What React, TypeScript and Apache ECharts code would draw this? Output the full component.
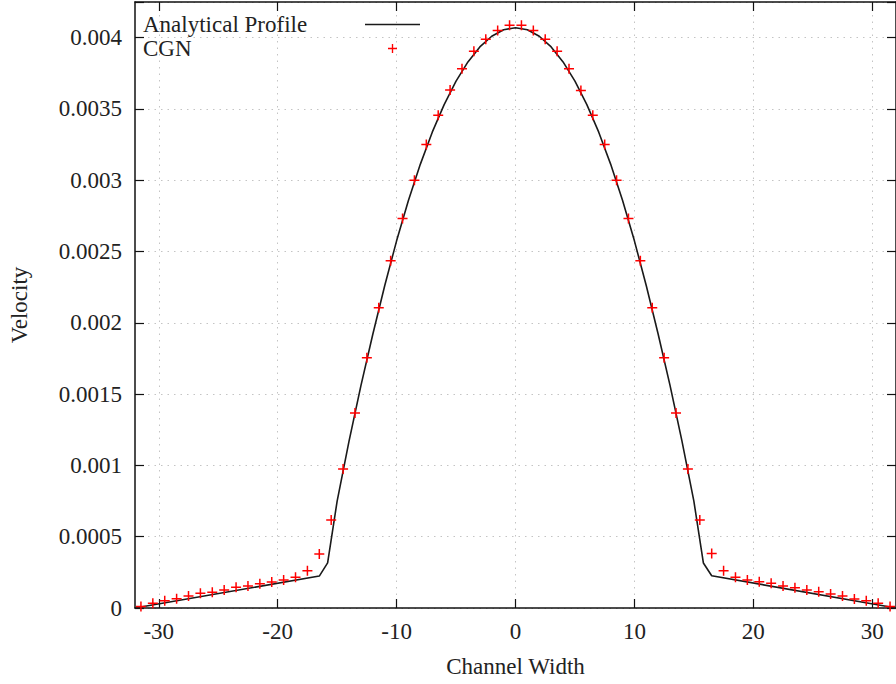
import React, { useEffect, useRef } from "react";
import * as echarts from "echarts";

const xTickValues = [-30, -20, -10, 0, 10, 20, 30];

// Analytical profile (line)
const analyticX = [
  -32, -16.5, -15.8, -15, -14, -13, -12, -11, -10, -9, -8, -7, -6, -5, -4, -3, -2, -1, 0,
  1, 2, 3, 4, 5, 6, 7, 8, 9, 10, 11, 12, 13, 14, 15, 15.8, 16.5, 32,
];
const analyticY = [
  0, 0.000224, 0.000316, 0.00075, 0.00117, 0.00156, 0.00192, 0.00226, 0.002575, 0.00286,
  0.003113, 0.003337, 0.00353, 0.003695, 0.00383, 0.003935, 0.00401, 0.004055, 0.00407,
  0.004055, 0.00401, 0.003935, 0.00383, 0.003695, 0.00353, 0.003337, 0.003113, 0.00286,
  0.002575, 0.00226, 0.00192, 0.00156, 0.00117, 0.00075, 0.000316, 0.000226, 0,
];

// CGN (points)
const cgnX = [
  -31.5, -30.5, -29.5, -28.5, -27.5, -26.5, -25.5, -24.5, -23.5, -22.5, -21.5, -20.5, -19.5,
  -18.5, -17.5, -16.5, -15.5, -14.5, -13.5, -12.5, -11.5, -10.5, -9.5, -8.5, -7.5, -6.5, -5.5,
  -4.5, -3.5, -2.5, -1.5, -0.5, 0.5, 1.5, 2.5, 3.5, 4.5, 5.5, 6.5, 7.5, 8.5, 9.5, 10.5, 11.5,
  12.5, 13.5, 14.5, 15.5, 16.5, 17.5, 18.5, 19.5, 20.5, 21.5, 22.5, 23.5, 24.5, 25.5, 26.5,
  27.5, 28.5, 29.5, 30.5, 31.5,
];
const cgnY = [
  0.00001, 0.000033, 0.000051, 0.000065, 0.000084, 0.000103, 0.00011, 0.000126, 0.000145,
  0.000154, 0.00017, 0.000182, 0.000196, 0.000215, 0.000261, 0.000379, 0.000617, 0.000974,
  0.001367, 0.001755, 0.002105, 0.002435, 0.002732, 0.003, 0.00325, 0.003456, 0.003632,
  0.003782, 0.003905, 0.003988, 0.00405, 0.004087, 0.004087, 0.00405, 0.003988, 0.003905,
  0.003782, 0.00363, 0.003455, 0.00325, 0.003, 0.002732, 0.002435, 0.002105, 0.001755,
  0.001367, 0.000974, 0.000617, 0.000383, 0.000261, 0.000215, 0.000196, 0.000184, 0.000173,
  0.000154, 0.000142, 0.000126, 0.000114, 0.000098, 0.000084, 0.000063, 0.000051, 0.000033,
  0.00001,
];

const FONT = "Liberation Serif";
const TEXT = "#222";
const PLUS =
  "path://M4.25,0h1.5v4.25h4.25v1.5h-4.25v4.25h-1.5v-4.25h-4.25v-1.5h4.25z";
const LINE_ICON = "path://M0,0h55v1.6h-55z";

export default function App() {
  const ref = useRef<HTMLDivElement>(null);
  useEffect(() => {
    document.body.style.margin = "0";
    if (!ref.current) return;
    const chart = echarts.init(ref.current, null, { renderer: "svg" });
    const gridDash = { color: "#c4c4c4", width: 1, type: [1.5, 5] as any };
    const axisLine = { show: true, onZero: false, lineStyle: { color: "#111", width: 1.5 } };
    const tick = { show: true, inside: true, length: 9, lineStyle: { color: "#111", width: 1.2 } };
    const yFmt = (v: number) => {
      const r = Math.round(v * 1e6);
      if (r % 500 !== 0) return "";
      return String(Number(v.toFixed(4)));
    };
    chart.setOption({
      animation: false,
      backgroundColor: "#fff",
      textStyle: { fontFamily: FONT },
      grid: { left: 132, right: -5, top: 2, bottom: 76, containLabel: false },
      legend: {
        orient: "vertical",
        left: 143,
        top: 13,
        padding: 0,
        itemWidth: 55,
        itemHeight: 9,
        itemGap: 1,
        align: "right",
        selectedMode: false,
        formatter: (name: string) => `{a|${name}}`,
        textStyle: {
          fontFamily: FONT,
          fontSize: 23,
          color: TEXT,
          rich: { a: { width: 217, align: "left", fontFamily: FONT, fontSize: 23, lineHeight: 20, color: TEXT } },
        },
        data: [{ name: "Analytical Profile", icon: LINE_ICON }, { name: "CGN" }],
      },
      xAxis: [
        {
          type: "value",
          min: -32,
          max: 32,
          position: "bottom",
          name: "Channel Width",
          nameLocation: "middle",
          nameGap: 47,
          nameTextStyle: { fontFamily: FONT, fontSize: 23, color: TEXT },
          axisLine,
          axisTick: { ...tick, customValues: xTickValues },
          axisLabel: { customValues: xTickValues, fontFamily: FONT, fontSize: 23, color: TEXT, margin: 12 },
          splitLine: { show: true, lineStyle: gridDash },
        },
        {
          type: "value",
          min: -32,
          max: 32,
          position: "top",
          axisLine,
          axisTick: { ...tick, customValues: xTickValues },
          axisLabel: { show: false, customValues: xTickValues },
          splitLine: { show: false },
        },
      ],
      yAxis: [
        {
          type: "value",
          min: 0,
          max: 0.00425,
          interval: 0.0005,
          position: "left",
          name: "Velocity",
          nameLocation: "middle",
          nameGap: 104,
          nameRotate: 90,
          nameTextStyle: { fontFamily: FONT, fontSize: 23, color: TEXT },
          axisLine,
          axisTick: tick,
          axisLabel: { formatter: yFmt, fontFamily: FONT, fontSize: 23, color: TEXT, margin: 13 },
          splitLine: { show: true, lineStyle: gridDash },
        },
        {
          type: "value",
          min: 0,
          max: 0.00425,
          interval: 0.0005,
          position: "right",
          axisLine,
          axisTick: tick,
          axisLabel: { show: false },
          splitLine: { show: false },
        },
      ],
      series: [
        {
          name: "Analytical Profile",
          type: "line",
          symbol: "none",
          data: analyticX.map((x, i) => [x, analyticY[i]]),
          lineStyle: { color: "#1a1a1a", width: 1.6 },
          itemStyle: { color: "#1a1a1a" },
          z: 2,
        },
        {
          name: "CGN",
          type: "scatter",
          symbol: PLUS,
          symbolSize: 10,
          data: cgnX.map((x, i) => [x, cgnY[i]]),
          itemStyle: { color: "#ff0000", opacity: 1 },
          z: 3,
        },
      ],
    });
    return () => chart.dispose();
  }, []);
  return <div ref={ref} style={{ width: 896, height: 684 }} />;
}
